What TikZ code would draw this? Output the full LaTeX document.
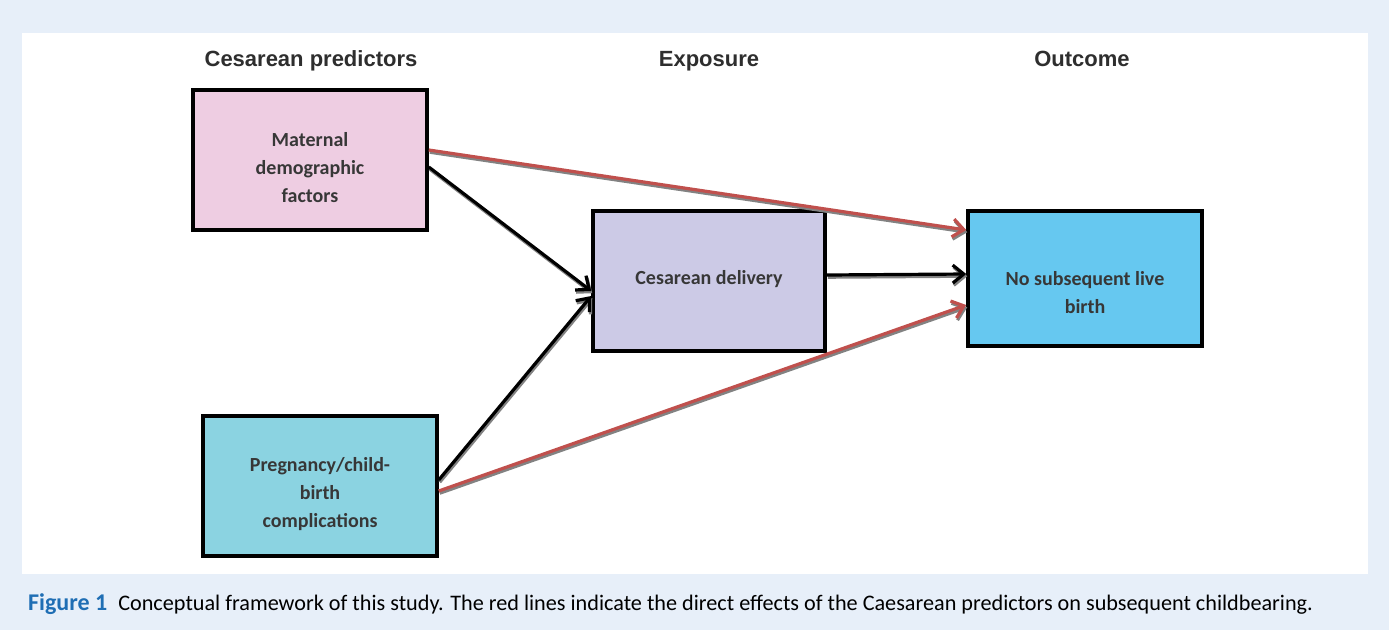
\documentclass[tikz,border=0pt]{standalone}
\usepackage{fontspec}
\setmainfont{Liberation Sans}
\newfontfamily\boxfont{Carlito}
\usetikzlibrary{arrows.meta}
\definecolor{bgblue}{RGB}{231,239,249}
\definecolor{pinkfill}{RGB}{238,205,226}
\definecolor{lavfill}{RGB}{204,202,230}
\definecolor{cyanfill}{RGB}{139,211,225}
\definecolor{skyfill}{RGB}{102,200,240}
\definecolor{redline}{RGB}{192,80,77}
\definecolor{shadowgray}{RGB}{130,130,130}
\definecolor{textgray}{RGB}{55,55,55}
\definecolor{figblue}{RGB}{31,110,180}
\tikzset{
  boxnode/.style={draw=black, line width=3.5pt, inner sep=0pt, minimum width=234pt, minimum height=140pt},
  boxtext/.style={align=center, inner sep=0pt, font=\boxfont\bfseries\fontsize{20}{28}\selectfont, text=textgray},
  header/.style={anchor=base, font=\bfseries\fontsize{22}{24}\selectfont, text=black!82},
  arr/.style={line width=3.2pt, -{Straight Barb[length=11pt,width=18pt]}},
  blackarr/.style={arr, draw=black},
  redarr/.style={arr, draw=redline},
  shadowarr/.style={arr, draw=shadowgray, transform canvas={shift={(1pt,-2.2pt)}}},
}
\begin{document}
\begin{tikzpicture}[x=1pt,y=-1pt]
\useasboundingbox (0,0) rectangle (1389,630);
\fill[bgblue] (0,0) rectangle (1389,630);
\fill[white] (22,33) rectangle (1368,574);

\node[header] (h1) at (311,66) {Cesarean predictors};
\node[header] (h2) at (709,66) {Exposure};
\node[header] (h3) at (1082,66) {Outcome};

\node[boxnode, fill=pinkfill] (mat) at (310,160) {};
\node[boxnode, fill=lavfill, minimum width=232pt] (ces) at (709,281) {};
\node[boxnode, fill=skyfill, minimum height=135pt] (nos) at (1085,278.5) {};
\node[boxnode, fill=cyanfill] (preg) at (320,486) {};

\node[boxtext] (matt) at ([yshift=-8pt]mat.center) {Maternal\\demographic\\factors};
\node[boxtext] (cest) at ([yshift=2pt]ces.center) {Cesarean delivery};
\node[boxtext] (nost) at ([yshift=-14.5pt]nos.center) {No subsequent live\\birth};
\node[boxtext] (pregt) at ([yshift=-8pt]preg.center) {Pregnancy/child-\\birth\\complications};

% shadows
\draw[shadowarr] ([yshift=10pt]mat.east) -- ([yshift=48.5pt]nos.west);
\draw[shadowarr] ([yshift=-5pt]preg.east) -- ([yshift=-26.5pt]nos.west);
\draw[shadowarr] ([yshift=-7pt]mat.east) -- ([yshift=-10pt]ces.west);
\draw[shadowarr] ([yshift=6pt]preg.east) -- ([yshift=-15pt]ces.west);
\draw[shadowarr] ([yshift=6pt]ces.east) -- ([yshift=4.5pt]nos.west);
% black arrows
\draw[blackarr] ([yshift=-7pt]mat.east) -- ([yshift=-10pt]ces.west);
\draw[blackarr] ([yshift=6pt]preg.east) -- ([yshift=-15pt]ces.west);
\draw[blackarr] ([yshift=6pt]ces.east) -- ([yshift=4.5pt]nos.west);
% red arrows
\draw[redarr] ([yshift=10pt]mat.east) -- ([yshift=48.5pt]nos.west);
\draw[redarr] ([yshift=-5pt]preg.east) -- ([yshift=-26.5pt]nos.west);

\node[anchor=base west, inner sep=0pt, font=\boxfont\fontsize{22.2}{24}\selectfont] (cap) at (28,610)
  {{\color{figblue}\bfseries\fontsize{24}{24}\selectfont Figure 1}\hspace{11pt}Conceptual framework of this study. The red lines indicate the direct effects of the Caesarean predictors on subsequent childbearing.};
\end{tikzpicture}
\end{document}
